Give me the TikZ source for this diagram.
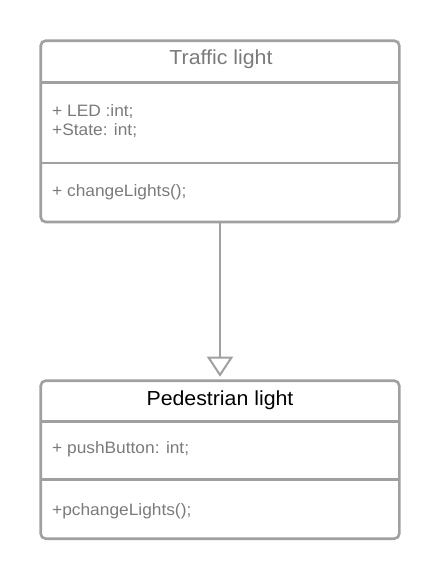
\documentclass[tikz,border=0pt]{standalone}
\usepackage{fontspec}
\setmainfont[FakeStretch=1.05]{Liberation Sans}
\usetikzlibrary{arrows.meta,positioning}
\definecolor{umlgray}{RGB}{160,160,160}
\definecolor{textgray}{RGB}{122,122,122}

\begin{document}
\begin{tikzpicture}[x=1pt, y=-1pt,
  classbox/.style={draw=umlgray, line width=2.6pt, rounded corners=5pt, outer sep=0pt, inner sep=0pt, minimum width=358.6pt},
  classname/.style={font=\fontsize{20.3}{24}\selectfont, anchor=base, inner sep=0pt},
  member/.style={font=\fontsize{16.5}{19}\selectfont, text=textgray, anchor=base west, inner sep=0pt},
  divider/.style={draw=umlgray, line width=2.6pt},
  inherit/.style={draw=umlgray, line width=2pt, -{Triangle[open, length=20pt, width=26pt]}, shorten >=4pt}]
\useasboundingbox (0,0) rectangle (440,579);

% Traffic light class
\node[classbox, minimum height=181.3pt] (traffic) at (220, 131.35) {};
\node[classname, text=textgray] (trafficname) at (221, 64.5) {Traffic light};
\draw[divider] ([yshift=-41.6pt]traffic.north west) -- ([yshift=-41.6pt]traffic.north east);
\draw[divider] ([yshift=-122.1pt]traffic.north west) -- ([yshift=-122.1pt]traffic.north east);
\node[member] (ledattr) at (52, 116.7) {+ LED :int;};
\node[member] (stateattr) at ([yshift=-19pt]ledattr.base west) {+State: int;};
\node[member] (changeop) at (52, 196.7) {+ changeLights();};

% Pedestrian light class
\node[classbox, minimum height=158pt] (pedestrian) at (220, 459.7) {};
\node[classname] (pedestrianname) at (220, 405) {Pedestrian light};
\draw[divider] ([yshift=-40.5pt]pedestrian.north west) -- ([yshift=-40.5pt]pedestrian.north east);
\draw[divider] ([yshift=-99pt]pedestrian.north west) -- ([yshift=-99pt]pedestrian.north east);
\node[member] (pushattr) at (52, 453.3) {+ pushButton: int;};
\node[member] (pchangeop) at (52, 515.3) {+pchangeLights();};

% Generalization
\draw[inherit] (traffic.south) -- (pedestrian.north);
\end{tikzpicture}
\end{document}
